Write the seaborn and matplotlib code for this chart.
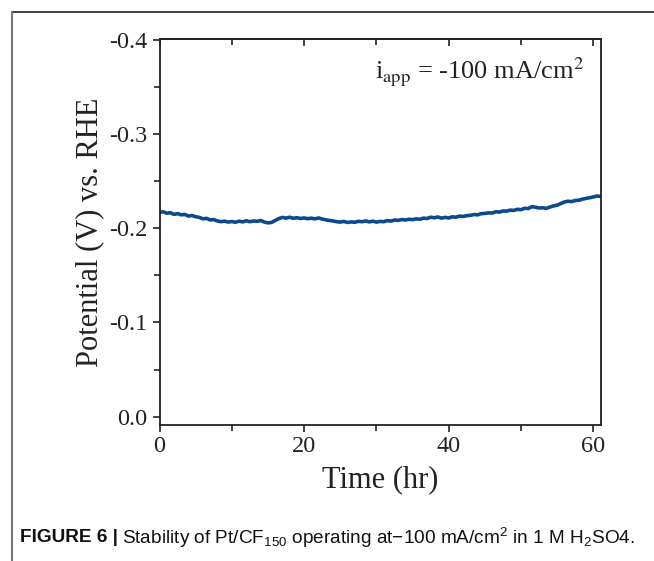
import matplotlib
matplotlib.use("Agg")
import numpy as np
import pandas as pd
import matplotlib.pyplot as plt
import seaborn as sns
from matplotlib.lines import Line2D
from matplotlib.ticker import MultipleLocator

# Stability data (time in hr, potential in V vs RHE)
time_hr = [
    0, 0.5, 1, 1.5, 2, 2.5, 3, 3.5, 4, 4.5, 5, 5.5, 6, 6.5, 7, 7.5, 8, 8.5, 9, 9.5,
    10, 10.5, 11, 11.5, 12, 12.5, 13, 13.5, 14, 14.5, 15, 15.5, 16, 16.5, 17, 17.5, 18, 18.5, 19, 19.5,
    20, 20.5, 21, 21.5, 22, 22.5, 23, 23.5, 24, 24.5, 25, 25.5, 26, 26.5, 27, 27.5, 28, 28.5, 29, 29.5,
    30, 30.5, 31, 31.5, 32, 32.5, 33, 33.5, 34, 34.5, 35, 35.5, 36, 36.5, 37, 37.5, 38, 38.5, 39, 39.5,
    40, 40.5, 41, 41.5, 42, 42.5, 43, 43.5, 44, 44.5, 45, 45.5, 46, 46.5, 47, 47.5, 48, 48.5, 49, 49.5,
    50, 50.5, 51, 51.5, 52, 52.5, 53, 53.5, 54, 54.5, 55, 55.5, 56, 56.5, 57, 57.5, 58, 58.5, 59, 59.5,
    60, 60.5, 61,
]
potential_v = [
    -0.2170, -0.2178, -0.2162, -0.2168, -0.2150, -0.2158, -0.2145, -0.2150, -0.2132, -0.2138,
    -0.2125, -0.2118, -0.2102, -0.2108, -0.2090, -0.2095, -0.2080, -0.2072, -0.2078, -0.2068,
    -0.2074, -0.2066, -0.2078, -0.2070, -0.2082, -0.2072, -0.2080, -0.2076, -0.2085, -0.2068,
    -0.2060, -0.2064, -0.2085, -0.2105, -0.2118, -0.2110, -0.2120, -0.2108, -0.2115, -0.2106,
    -0.2112, -0.2104, -0.2110, -0.2102, -0.2112, -0.2100, -0.2092, -0.2085, -0.2080, -0.2072,
    -0.2068, -0.2075, -0.2064, -0.2070, -0.2066, -0.2076, -0.2072, -0.2080, -0.2070, -0.2078,
    -0.2068, -0.2075, -0.2072, -0.2084, -0.2078, -0.2090, -0.2086, -0.2095, -0.2090, -0.2098,
    -0.2094, -0.2102, -0.2098, -0.2110, -0.2106, -0.2120, -0.2114, -0.2122, -0.2110, -0.2118,
    -0.2112, -0.2124, -0.2120, -0.2132, -0.2128, -0.2136, -0.2140, -0.2148, -0.2145, -0.2158,
    -0.2160, -0.2166, -0.2164, -0.2178, -0.2174, -0.2186, -0.2184, -0.2195, -0.2192, -0.2204,
    -0.2200, -0.2215, -0.2212, -0.2232, -0.2226, -0.2218, -0.2220, -0.2214, -0.2228, -0.2240,
    -0.2248, -0.2265, -0.2282, -0.2290, -0.2286, -0.2298, -0.2300, -0.2312, -0.2320, -0.2328,
    -0.2335, -0.2345, -0.2342,
]

y_ticks = [0.0, -0.1, -0.2, -0.3, -0.4]
y_tick_labels = ["0.0", "-0.1", "-0.2", "-0.3", "-0.4"]
x_ticks = [0, 20, 40, 60]

df = pd.DataFrame({"Time (hr)": time_hr, "Potential": potential_v})

sns.set_style("ticks")
plt.rcParams["font.family"] = ["Liberation Serif", "DejaVu Serif"]
plt.rcParams["mathtext.fontset"] = "custom"
plt.rcParams["mathtext.rm"] = "Liberation Sans"
plt.rcParams["mathtext.it"] = "Liberation Sans:italic"
plt.rcParams["mathtext.bf"] = "Liberation Sans:bold"

ink = "#222222"

fig = plt.figure(figsize=(6.54, 5.61), dpi=100)
ax = fig.add_axes([0.2439, 0.2433, 0.9194 - 0.2439, 0.9296 - 0.2433])

sns.lineplot(data=df, x="Time (hr)", y="Potential", ax=ax,
             color="#0b4a8c", linewidth=2.6, estimator=None)

ax.set_xlim(0, 61.1)
ax.set_ylim(0.0085, -0.401)
ax.set_xticks(x_ticks)
ax.set_yticks(y_ticks)
ax.set_yticklabels(y_tick_labels)
ax.xaxis.set_minor_locator(MultipleLocator(10))
ax.yaxis.set_minor_locator(MultipleLocator(0.05))

for side in ["left", "right", "top", "bottom"]:
    ax.spines[side].set_visible(True)
    ax.spines[side].set_linewidth(1.3)
    ax.spines[side].set_color(ink)

ax.tick_params(axis="both", which="major", labelsize=17.5, length=5, width=1.2,
               direction="out", colors=ink, labelcolor=ink)
ax.tick_params(axis="both", which="minor", length=4, width=1.2, direction="out", colors=ink)

# top mirror ticks point inward, no labels
top = ax.secondary_xaxis("top")
top.set_xticks(x_ticks)
top.xaxis.set_minor_locator(MultipleLocator(10))
top.tick_params(axis="x", which="both", direction="in", length=5, width=1.2,
                labeltop=False, colors=ink)
top.tick_params(axis="x", which="minor", length=4)
top.spines["top"].set_linewidth(1.3)
top.spines["top"].set_color(ink)

ax.set_xlabel("Time (hr)", fontsize=22, color=ink, labelpad=6)
ax.set_ylabel("Potential (V) vs. RHE", fontsize=22, color=ink, labelpad=4)

ax.text(0.962, 0.915, r"i$_{\rm app}$ = -100 mA/cm$^{2}$", transform=ax.transAxes,
        ha="right", va="center", fontsize=19, color=ink, math_fontfamily="stix")

# outer frame (open at right and bottom, as cropped)
fx, fy = 12 / 654, 1 - 12 / 561
fig.add_artist(Line2D([fx, 1.0], [fy, fy], transform=fig.transFigure, color="#333333", lw=1.3))
fig.add_artist(Line2D([fx, fx], [0.0, fy], transform=fig.transFigure, color="#777777", lw=1.5))

# caption: bold lead + regular text
cap_y = 1 - 538 / 561
t1 = fig.text(20 / 654, cap_y, "FIGURE 6 |", fontsize=13.7, fontweight="bold",
              family="Liberation Sans", va="center", ha="left", color="#111111")
fig.canvas.draw()
bb = t1.get_window_extent(renderer=fig.canvas.get_renderer())
x2 = (bb.x1 + 4) / fig.bbox.width
fig.text(x2, cap_y,
         r"Stability of Pt/CF$_{\mathrm{150}}$ operating at−100 mA/cm$^{\mathrm{2}}$ in 1 M H$_{\mathrm{2}}$SO4.",
         fontsize=13.7, family="Liberation Sans", va="center", ha="left", color="#111111")

fig.savefig("out.png", dpi=100)
